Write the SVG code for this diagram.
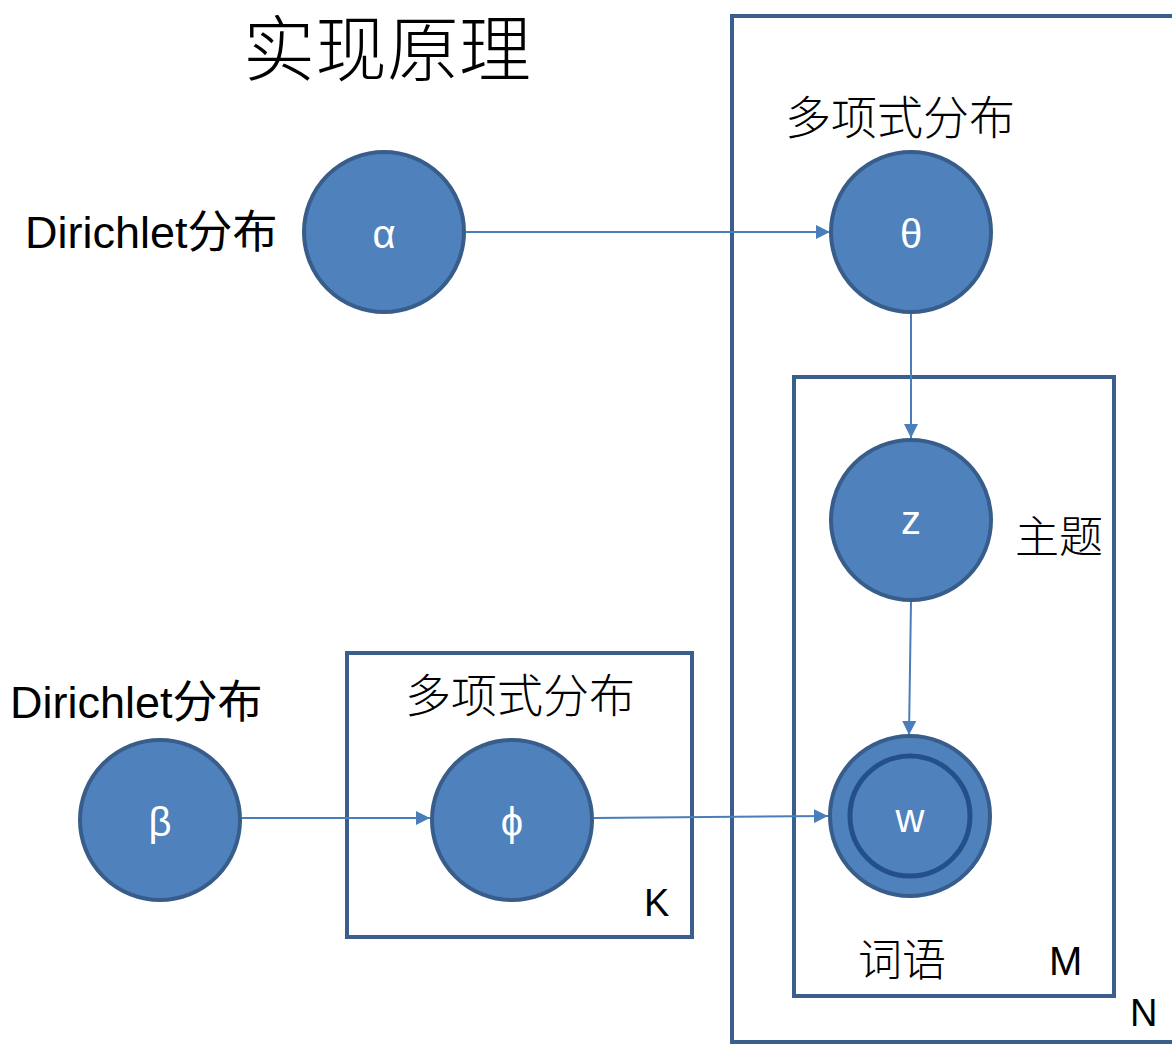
<svg xmlns="http://www.w3.org/2000/svg" width="1172" height="1044" viewBox="0 0 1172 1044">
<defs>
<style>
.node{fill:#4F81BD;stroke:#385D8A;stroke-width:4}
.inner{fill:none;stroke:#24508A;stroke-width:5}
.plate{fill:none;stroke:#3A5F8C;stroke-width:4}
.edge{stroke:#4A7EBB;stroke-width:2;fill:none;marker-end:url(#ah)}
.sym{fill:#fff;font-family:"Liberation Sans","DejaVu Sans",sans-serif;font-size:40px;text-anchor:middle;dominant-baseline:central}
.lbl{fill:#000;font-family:"Liberation Sans","Noto Sans CJK SC",sans-serif;font-size:45px}
.cjk{fill:#000;font-family:"Noto Sans CJK SC",sans-serif;font-size:44px;font-weight:300}
</style>
<marker id="ah" viewBox="0 0 10 10" refX="10" refY="5" markerWidth="14" markerHeight="14" markerUnits="userSpaceOnUse" orient="auto">
<path d="M0,0 L10,5 L0,10 z" fill="#4A7EBB"/>
</marker>
</defs>
<rect width="1172" height="1044" fill="#fff"/>
<text x="243" y="75" class="cjk" style="font-size:72px">实现原理</text>
<g id="plates">
<rect id="plate-N" class="plate" x="732" y="16" width="460" height="1026"/>
<rect id="plate-M" class="plate" x="794" y="377" width="320" height="619"/>
<rect id="plate-K" class="plate" x="347" y="653" width="345" height="284"/>
</g>
<g id="connectors">
<line class="edge" x1="466" y1="232" x2="830" y2="232"/>
<line class="edge" x1="911" y1="313" x2="911" y2="438"/>
<line class="edge" x1="911" y1="601" x2="909" y2="735"/>
<line class="edge" x1="242" y1="818" x2="430" y2="818"/>
<line class="edge" x1="594" y1="818" x2="828" y2="816"/>
</g>
<g id="node-alpha"><circle class="node" cx="384" cy="232" r="80"/><text class="sym" x="384" y="234">α</text></g>
<g id="node-theta"><circle class="node" cx="911" cy="232" r="80"/><text class="sym" x="911" y="234">θ</text></g>
<g id="node-z"><circle class="node" cx="911" cy="520" r="80"/><text class="sym" x="911" y="520">z</text></g>
<g id="node-w"><circle class="node" cx="910" cy="816" r="80"/><circle class="inner" cx="910" cy="816" r="60"/><text class="sym" x="910" y="818">w</text></g>
<g id="node-beta"><circle class="node" cx="160" cy="820" r="80"/><text class="sym" x="160" y="822">β</text></g>
<g id="node-phi"><circle class="node" cx="512" cy="820" r="80"/><text class="sym" x="512" y="822">ϕ</text></g>
<g id="labels">
<text class="lbl" x="25" y="248">Dirichlet分布</text>
<text class="lbl" x="10" y="718">Dirichlet分布</text>
<text class="cjk" x="785" y="134" style="font-size:46px">多项式分布</text>
<text class="cjk" x="405" y="712" style="font-size:46px">多项式分布</text>
<text class="cjk" x="1015" y="553">主题</text>
<text class="cjk" x="858" y="976">词语</text>
<text class="lbl" x="644" y="916" style="font-size:38px">K</text>
<text class="lbl" x="1049" y="975" style="font-size:40px">M</text>
<text class="lbl" x="1130" y="1026" style="font-size:38px">N</text>
</g>
</svg>
